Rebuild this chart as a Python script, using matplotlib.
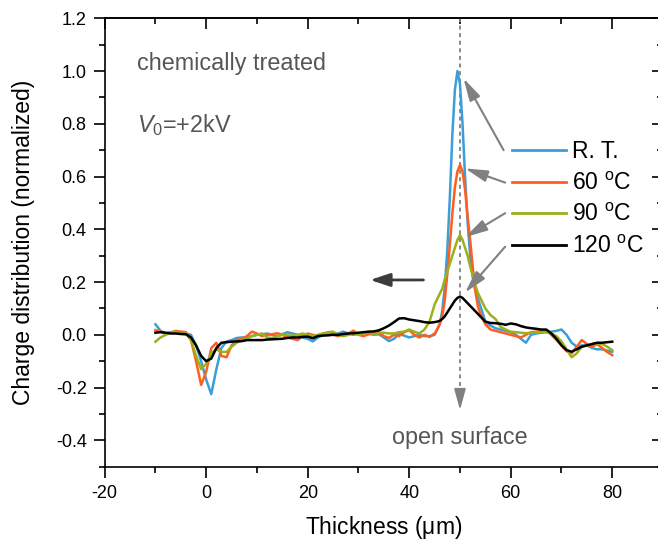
import matplotlib
matplotlib.use("Agg")
import matplotlib.pyplot as plt
from matplotlib.ticker import MultipleLocator

plt.rcParams['font.family'] = ['Liberation Sans', 'DejaVu Sans']
plt.rcParams['mathtext.fontset'] = 'custom'
plt.rcParams['mathtext.rm'] = 'Liberation Sans'
plt.rcParams['mathtext.it'] = 'Liberation Sans:italic'
plt.rcParams['axes.unicode_minus'] = False

# ---------------- data ----------------
thickness = [
    -10, -9, -8, -7, -6, -5, -4, -3, -2, -1,
    0, 1, 2, 3, 4, 5, 6, 7, 8, 9,
    10, 11, 12, 13, 14, 15, 16, 17, 18, 19,
    20, 21, 22, 23, 24, 25, 26, 27, 28, 29,
    30, 31, 32, 33, 34, 35, 36, 37, 38, 39,
    40, 41, 42, 43, 44, 45,
    45.5, 46, 46.5, 47, 47.5, 48, 48.5, 49, 49.5, 50,
    50.5, 51, 51.5, 52, 52.5, 53, 53.5, 54, 54.5, 55,
    56, 57, 58, 59, 60, 61, 62, 63, 64, 65,
    66, 67, 68, 69, 70, 71, 72, 73, 74, 75,
    76, 77, 78, 79, 80,
]

rt = [
    0.04, 0.015, 0.005, 0.01, 0.012, 0.005, 0.005, 0.0, -0.04, -0.10,
    -0.17, -0.225, -0.13, -0.05, -0.025, -0.02, -0.012, -0.01, -0.01, -0.005,
    0.0, 0.002, 0.005, 0.0, -0.005, 0.002, 0.01, 0.005, 0.0, -0.01,
    -0.015, -0.025, -0.01, 0.0, 0.002, 0.005, 0.005, 0.012, 0.005, 0.0,
    0.005, 0.01, 0.005, 0.0, 0.002, -0.01, -0.024, -0.015, 0.003, -0.003,
    -0.01, -0.005, 0.0, -0.005, -0.005, 0.0,
    0.02, 0.04, 0.09, 0.18, 0.32, 0.52, 0.76, 0.93, 1.0, 0.95,
    0.8, 0.6, 0.43, 0.3, 0.22, 0.17, 0.14, 0.11, 0.08, 0.05,
    0.035, 0.025, 0.02, 0.015, 0.01, 0.0, -0.015, -0.03, 0.0, 0.005,
    0.008, 0.01, 0.012, 0.015, 0.02, 0.0, -0.03, -0.045, -0.04, -0.04,
    -0.05, -0.055, -0.055, -0.06, -0.064,
]

t60 = [
    0.018, 0.012, 0.005, 0.008, 0.015, 0.012, 0.01, -0.02, -0.1, -0.19,
    -0.14, -0.05, -0.03, -0.08, -0.085, -0.04, -0.02, -0.015, -0.005, 0.012,
    0.005, -0.005, 0.0, 0.002, 0.006, 0.0, -0.01, -0.015, -0.02, -0.005,
    0.005, 0.0, -0.005, 0.005, 0.003, 0.0, -0.005, 0.0, 0.005, 0.016,
    0.0, -0.005, 0.002, 0.005, 0.01, -0.005, -0.012, 0.0, -0.005, 0.01,
    0.018, 0.0, -0.01, 0.0, -0.008, 0.005,
    0.02, 0.04, 0.07, 0.13, 0.23, 0.34, 0.46, 0.56, 0.62, 0.644,
    0.62, 0.55, 0.45, 0.36, 0.26, 0.17, 0.11, 0.08, 0.06, 0.04,
    0.02, 0.015, 0.01, 0.005, 0.0, -0.005, -0.01, 0.0, 0.01, 0.012,
    0.015, 0.018, 0.0, -0.02, -0.04, -0.062, -0.07, -0.045, -0.02, -0.035,
    -0.045, -0.035, -0.05, -0.065, -0.077,
]

t90 = [
    -0.026, -0.01, 0.0, 0.008, 0.012, 0.005, 0.005, -0.02, -0.08, -0.13,
    -0.11, -0.07, -0.055, -0.065, -0.065, -0.045, -0.03, -0.02, -0.015, -0.005,
    0.0, 0.005, -0.01, -0.012, -0.005, 0.0, 0.0, -0.005, 0.0, 0.005,
    0.0, -0.005, 0.0, 0.005, 0.01, 0.012, 0.0, -0.005, 0.0, 0.005,
    0.0, 0.005, 0.012, 0.0, 0.008, 0.008, 0.005, 0.005, 0.01, 0.012,
    0.02, 0.012, 0.005, 0.02, 0.05, 0.115,
    0.135, 0.155, 0.175, 0.21, 0.24, 0.27, 0.30, 0.33, 0.36, 0.378,
    0.36, 0.33, 0.30, 0.26, 0.225, 0.19, 0.16, 0.14, 0.12, 0.10,
    0.075, 0.06, 0.03, 0.02, 0.012, 0.01, 0.008, 0.006, 0.008, 0.01,
    0.012, 0.01, 0.005, -0.005, -0.025, -0.055, -0.085, -0.07, -0.045, -0.04,
    -0.035, -0.032, -0.035, -0.045, -0.058,
]

t120 = [
    0.008, 0.01, 0.008, 0.005, 0.005, 0.003, 0.002, -0.01, -0.04, -0.08,
    -0.10, -0.09, -0.05, -0.03, -0.028, -0.026, -0.025, -0.024, -0.02, -0.02,
    -0.02, -0.02, -0.018, -0.017, -0.016, -0.015, -0.012, -0.01, -0.01, -0.008,
    -0.007, -0.013, -0.005, -0.003, -0.002, 0.0, 0.0, 0.003, 0.005, 0.006,
    0.008, 0.01, 0.012, 0.013, 0.017, 0.025, 0.035, 0.048, 0.062, 0.063,
    0.058, 0.055, 0.052, 0.048, 0.046, 0.048,
    0.05, 0.053, 0.06, 0.07, 0.085, 0.10, 0.115, 0.13, 0.14, 0.145,
    0.14, 0.13, 0.12, 0.11, 0.10, 0.09, 0.08, 0.07, 0.06, 0.05,
    0.045, 0.044, 0.042, 0.038, 0.043, 0.04, 0.033, 0.028, 0.025, 0.023,
    0.02, 0.02, 0.005, -0.015, -0.04, -0.058, -0.064, -0.055, -0.045, -0.04,
    -0.035, -0.03, -0.03, -0.028, -0.026,
]

series_labels = ['R. T.', r'60 $^{\mathrm{o}}$C', r'90 $^{\mathrm{o}}$C', r'120 $^{\mathrm{o}}$C']
series_values = [rt, t60, t90, t120]
series_colors = ['#3a9fd8', '#ff5e1f', '#9bb01a', '#000000']

# annotation pointer targets (peak positions) and legend-side starts
pointer_starts = [(58.6, 0.70), (58.9, 0.577), (58.9, 0.461), (58.9, 0.334)]
pointer_ends = [(50.7, 0.972), (51.0, 0.631), (51.0, 0.37), (51.0, 0.16)]

# ---------------- figure ----------------
fig = plt.figure(figsize=(6.58, 5.42), dpi=100)
ax = fig.add_axes([104.7 / 658, 1 - 466.7 / 542, 558.3 / 658, 448.4 / 542])

handles = []
for vals, lab, col in zip(series_values, series_labels, series_colors):
    h, = ax.plot(thickness, vals, color=col, lw=1.8, label=lab, zorder=3)
    handles.append(h)

ax.set_xlim(-20, 90)
ax.set_ylim(-0.5, 1.2)
ax.xaxis.set_major_locator(MultipleLocator(20))
ax.xaxis.set_minor_locator(MultipleLocator(10))
ax.yaxis.set_major_locator(MultipleLocator(0.2))
ax.yaxis.set_minor_locator(MultipleLocator(0.1))
ax.yaxis.set_major_formatter(matplotlib.ticker.FormatStrFormatter('%.1f'))
ax.tick_params(axis='both', which='major', direction='out', length=8, width=1.2,
               labelsize=13, pad=5)
ax.tick_params(axis='both', which='minor', direction='out', length=4.5, width=1.2)
for sp in ax.spines.values():
    sp.set_linewidth(1.2)

secx = ax.secondary_xaxis('top')
secx.xaxis.set_major_locator(MultipleLocator(20))
secx.xaxis.set_minor_locator(MultipleLocator(10))
secx.tick_params(axis='x', which='major', direction='in', length=8, width=1.2, labeltop=False)
secx.tick_params(axis='x', which='minor', direction='in', length=4.5, width=1.2)
secx.spines['top'].set_linewidth(1.2)
secy = ax.secondary_yaxis('right')
secy.yaxis.set_major_locator(MultipleLocator(0.2))
secy.yaxis.set_minor_locator(MultipleLocator(0.1))
secy.tick_params(axis='y', which='major', direction='in', length=8, width=1.2, labelright=False)
secy.tick_params(axis='y', which='minor', direction='in', length=4.5, width=1.2)
secy.spines['right'].set_linewidth(1.2)

ax.set_xlabel(r'Thickness ($\mathrm{\mu}$m)', fontsize=16.5)
ax.set_ylabel('Charge distribution (normalized)', fontsize=16.5)
ax.xaxis.set_label_coords(0.5, -0.105)
ax.yaxis.set_label_coords(-0.125, 0.5)

# texts
ax.text(-13.6, 1.03, 'chemically treated', fontsize=16.8, color='#555555',
        ha='left', va='center')
ax.text(-13.6, 0.795, r'$V_{\mathit{0}}$=+2kV', fontsize=16.8, color='#555555',
        ha='left', va='center')
ax.text(50, -0.39, 'open surface', fontsize=16.8, color='#555555',
        ha='center', va='center')

# vertical dashed line with arrow at x = 50
ax.plot([50, 50], [1.2, -0.26], color='#808080', lw=1.3, ls=(0, (2.2, 2)), zorder=2)
ax.annotate('', xy=(50, -0.285), xytext=(50, -0.25),
            arrowprops=dict(arrowstyle='-|>,head_length=0.8,head_width=0.22',
                            color='#808080', lw=1.3, mutation_scale=16,
                            shrinkA=0, shrinkB=0))

# left arrow
ax.annotate('', xy=(32.3, 0.208), xytext=(42.8, 0.208),
            arrowprops=dict(arrowstyle='-|>,head_length=0.6,head_width=0.2',
                            color='#3c3c3c', lw=2.0, mutation_scale=20,
                            shrinkA=0, shrinkB=0))

# legend pointer arrows
for s, e in zip(pointer_starts, pointer_ends):
    ax.annotate('', xy=e, xytext=s,
                arrowprops=dict(arrowstyle='-|>,head_length=0.85,head_width=0.22',
                                color='#808080', lw=1.5, mutation_scale=16,
                                shrinkA=0, shrinkB=0), zorder=4)

leg = ax.legend(handles=handles, loc='upper left',
                bbox_to_anchor=(512 / 658, 1 - 140 / 542), bbox_transform=fig.transFigure,
                frameon=False, fontsize=16.5, handlelength=2.35, handletextpad=0.25,
                labelspacing=0.38, borderpad=0, borderaxespad=0)
for line in leg.get_lines():
    line.set_linewidth(2.0)

fig.savefig('out.png', dpi=100)
